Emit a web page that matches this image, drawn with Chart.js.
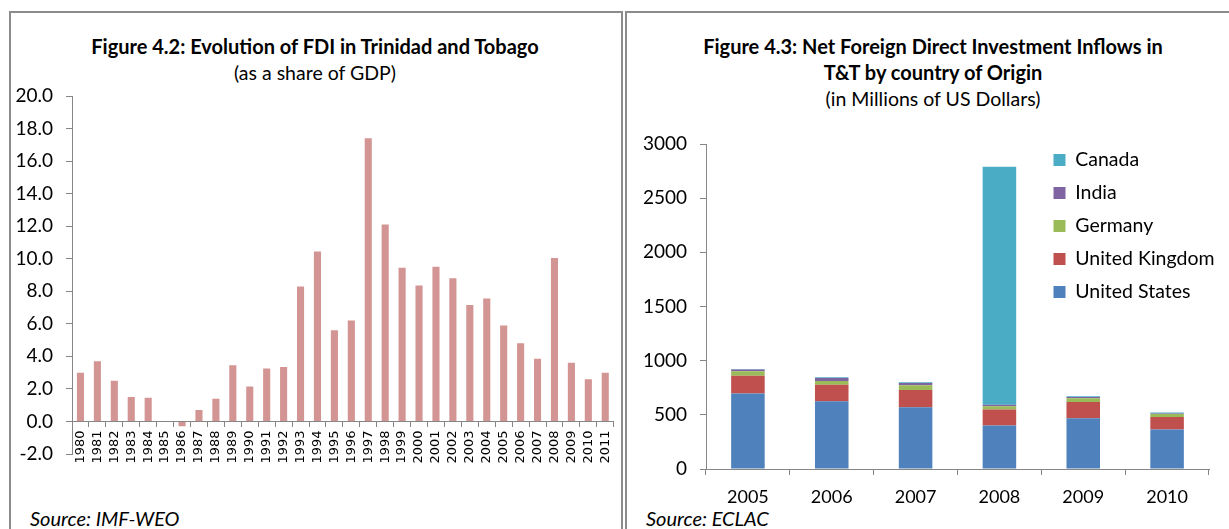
<!DOCTYPE html>
<html><head><meta charset="utf-8">
<script src="https://cdn.jsdelivr.net/npm/chart.js@4.4.1/dist/chart.umd.min.js"></script>
<style>
html,body{margin:0;padding:0;background:#fff;width:1229px;height:529px;overflow:hidden;font-family:Lato,"Open Sans",sans-serif;color:#000;}
.frame{position:absolute;border:2px solid #8c8c8c;border-bottom:none;box-sizing:border-box;}
#f1{left:9px;top:11px;width:614px;height:540px;}
#f2{left:625px;top:11px;width:700px;height:540px;}
.t{position:absolute;text-align:center;font-size:19.5px;line-height:26px;white-space:nowrap;}
.b{font-weight:bold;font-size:20px;}
.src{position:absolute;font-size:20px;line-height:26px;font-style:italic;white-space:nowrap;}
canvas{position:absolute;top:0;}
</style></head>
<body>
<div class="frame" id="f1"></div>
<div class="frame" id="f2"></div>
<div class="t b" style="left:15px;width:600px;top:33px;">Figure 4.2: Evolution of FDI in Trinidad and Tobago</div>
<div class="t" style="left:15px;width:600px;top:60px;">(as a share of GDP)</div>
<div class="t b" style="left:633px;width:600px;top:33px;">Figure 4.3: Net Foreign Direct Investment Inflows in</div>
<div class="t b" style="left:633px;width:600px;top:59px;">T&amp;T by country of Origin</div>
<div class="t" style="left:633px;width:600px;top:86px;">(in Millions of US Dollars)</div>
<div class="src" style="left:30px;top:505px;">Source: IMF-WEO</div>
<div class="src" style="left:646px;top:505px;">Source: ECLAC</div>
<canvas id="c1" width="625" height="529" style="left:0;"></canvas>
<canvas id="c2" width="603" height="529" style="left:626px;"></canvas>
<script>
// ---- Figure 4.2 data ----
const fdiYears = ['1980','1981','1982','1983','1984','1985','1986','1987','1988','1989','1990','1991','1992','1993','1994','1995','1996','1997','1998','1999','2000','2001','2002','2003','2004','2005','2006','2007','2008','2009','2010','2011'];
const fdiShareOfGDP = [3.0,3.7,2.5,1.5,1.45,0,-0.3,0.7,1.4,3.45,2.15,3.25,3.35,8.3,10.45,5.6,6.2,17.4,12.1,9.45,8.35,9.5,8.8,7.15,7.55,5.9,4.8,3.85,10.05,3.6,2.6,3.0];

// ---- Figure 4.3 data ----
const originYears = ['2005','2006','2007','2008','2009','2010'];
const unitedStates = [697,626,570,401,469,364];
const unitedKingdom = [163,151,160,148,150,116];
const germany = [43,36,44,31,34,28];
const india = [15,28,21,12,12,5];
const canada = [5,6,6,2198,6,8];

const AXIS = '#868686';
const tickFont = {family: 'Lato', size: 19};

new Chart(document.getElementById('c1'), {
  type: 'bar',
  data: {labels: fdiYears, datasets: [{data: fdiShareOfGDP, backgroundColor: '#D39593', borderWidth: 0, barPercentage: 0.42, categoryPercentage: 1}]},
  options: {
    responsive: false, animation: false,
    layout: {padding: {left: 0, right: 9, top: 96, bottom: 75}},
    plugins: {legend: {display: false}, tooltip: {enabled: false}},
    scales: {
      x: {
        position: {y: 0},
        grid: {drawOnChartArea: false, drawTicks: true, tickLength: 5, color: AXIS, offset: true},
        border: {display: true, color: AXIS, width: 1},
        ticks: {minRotation: 90, maxRotation: 90, autoSkip: false, padding: 4, color: '#000', font: {family: 'DejaVu Sans', size: 13}}
      },
      y: {
        min: -2, max: 20,
        grid: {drawOnChartArea: false, drawTicks: true, tickLength: 6, color: AXIS},
        border: {display: true, color: AXIS, width: 1},
        ticks: {stepSize: 2, padding: 13, color: '#000', font: tickFont, callback: v => Number(v).toFixed(1)},
        afterFit: s => { s.width = 72; }
      }
    }
  }
});

const legendInPlot = {
  id: 'legendInPlot',
  afterLayout(chart, args, opts) {
    const lg = chart.legend; if (!lg) return;
    const w = lg.right - lg.left, h = lg.bottom - lg.top;
    lg.left = chart.chartArea.left + opts.dx; lg.right = lg.left + w;
    lg.top = chart.chartArea.top + opts.dy; lg.bottom = lg.top + h;
  }
};

new Chart(document.getElementById('c2'), {
  type: 'bar',
  data: {
    labels: originYears,
    datasets: [
      {label: 'United States', data: unitedStates, backgroundColor: '#4F81BD'},
      {label: 'United Kingdom', data: unitedKingdom, backgroundColor: '#C0504D'},
      {label: 'Germany', data: germany, backgroundColor: '#9BBB59'},
      {label: 'India', data: india, backgroundColor: '#8064A2'},
      {label: 'Canada', data: canada, backgroundColor: '#4BACC6'}
    ].map(d => Object.assign(d, {borderWidth: 0, barPercentage: 0.4, categoryPercentage: 1}))
  },
  plugins: [legendInPlot],
  options: {
    responsive: false, animation: false,
    layout: {padding: {left: 0, right: 20, top: 144, bottom: 23}},
    plugins: {
      tooltip: {enabled: false},
      legend: {position: 'chartArea', align: 'start', reverse: true,
        labels: {boxWidth: 12, boxHeight: 12, padding: 13.5, color: '#000', font: {family: 'Lato', size: 19.5}}},
      legendInPlot: {dx: 334, dy: -7.25}
    },
    scales: {
      x: {
        stacked: true,
        grid: {drawOnChartArea: false, drawTicks: true, tickLength: 6, color: AXIS, offset: true},
        border: {display: true, color: AXIS, width: 1},
        ticks: {padding: 11, color: '#000', font: {family: 'Lato', size: 18}},
        afterFit: s => { s.height = 37; }
      },
      y: {
        stacked: true, min: 0, max: 3000,
        grid: {drawOnChartArea: false, drawTicks: true, tickLength: 6, color: AXIS},
        border: {display: true, color: AXIS, width: 1},
        ticks: {stepSize: 500, padding: 13, color: '#000', font: tickFont, callback: v => String(v)},
        afterFit: s => { s.width = 80; }
      }
    }
  }
});
</script>
</body></html>
